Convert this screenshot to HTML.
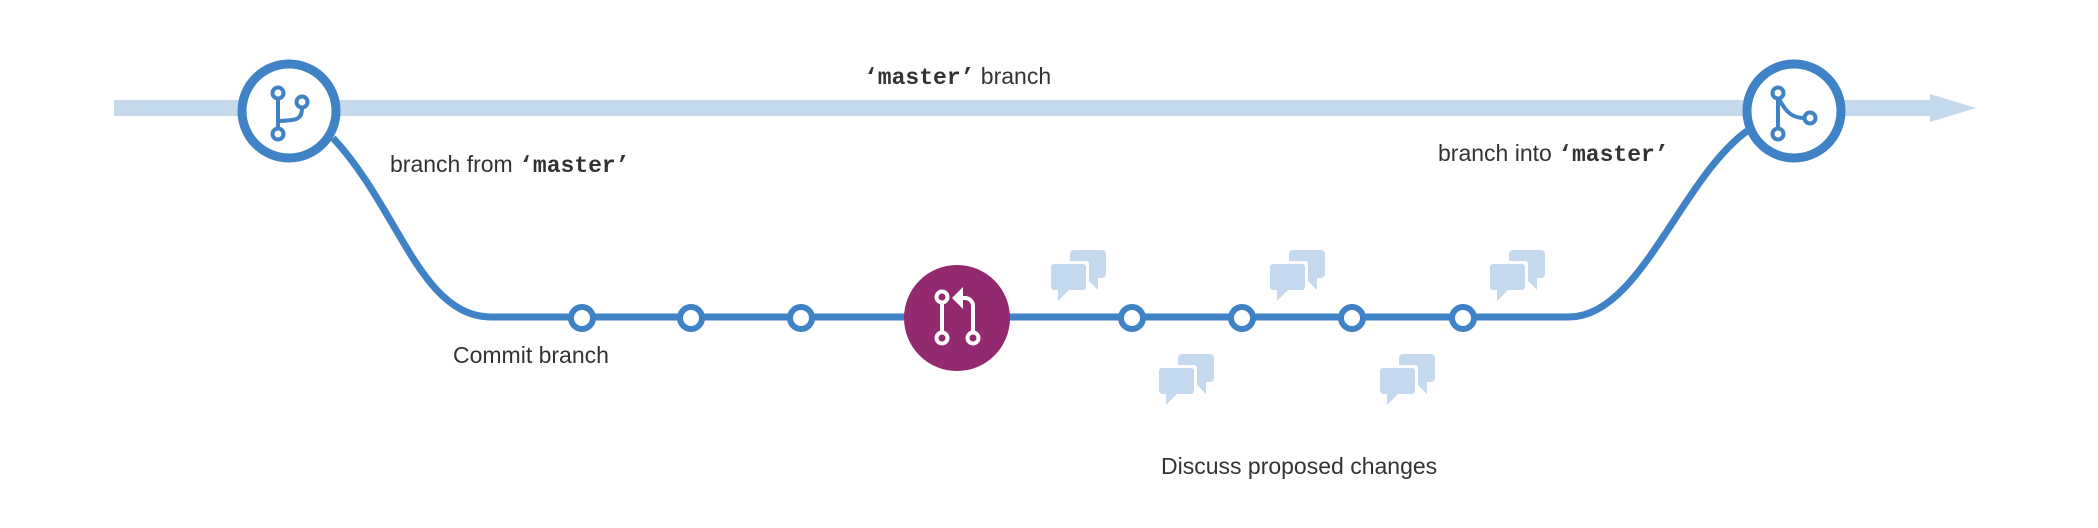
<!DOCTYPE html>
<html><head><meta charset="utf-8"><style>
html,body{margin:0;padding:0;background:#fff;}
svg{display:block}
text{font-family:"Liberation Sans",sans-serif;font-size:23px;fill:#333}
.m{font-family:"Liberation Mono",monospace;font-weight:bold}
</style></head><body>
<svg width="2098" height="528" viewBox="0 0 2098 528" xmlns="http://www.w3.org/2000/svg">
<defs>
<g id="chat">
<path d="M24 0 H52 a4 4 0 0 1 4 4 V24 a4 4 0 0 1 -4 4 H48 V40 L36 28 H24 a4 4 0 0 1 -4 -4 V4 a4 4 0 0 1 4 -4Z" fill="#c5d9ee"/>
<path d="M2 11 H36 a3 3 0 0 1 3 3 V40 a3 3 0 0 1 -3 3 H20 L6 55 V43 H2 a3 3 0 0 1 -3 -3 V14 a3 3 0 0 1 3 -3Z" fill="#fff"/>
<path d="M4 14 H33 a3 3 0 0 1 3 3 V37 a3 3 0 0 1 -3 3 H19 L8 51 V40 H4 a3 3 0 0 1 -3 -3 V17 a3 3 0 0 1 3 -3Z" fill="#c5d9ee"/>
</g>
</defs>
<rect x="114" y="100" width="1822" height="16" fill="#c5d9ec"/>
<polygon points="1930,94 1976,108 1930,122" fill="#c5d9ec"/>
<path d="M333,138 C400,210 420,317 492,317 L1569,317 C1640,317 1680,180 1747,131" fill="none" stroke="#3f82c6" stroke-width="7"/>
<g fill="#fff" stroke="#3f82c6" stroke-width="6">
<circle cx="582" cy="318" r="11"/><circle cx="691" cy="318" r="11"/><circle cx="801" cy="318" r="11"/>
<circle cx="1132" cy="318" r="11"/><circle cx="1242" cy="318" r="11"/><circle cx="1352" cy="318" r="11"/><circle cx="1463" cy="318" r="11"/>
</g>
<circle cx="289" cy="111" r="47" fill="#fff" stroke="#3f82c6" stroke-width="9"/>
<g fill="#fff" stroke="#3f82c6" stroke-width="4">
<path d="M278,99 V128" fill="none"/>
<path d="M302,108 C302,120 296,120 280,121" fill="none"/>
<circle cx="278" cy="93" r="5.5"/><circle cx="278" cy="134" r="5.5"/><circle cx="302" cy="102" r="5.5"/>
</g>
<circle cx="1794" cy="111" r="47" fill="#fff" stroke="#3f82c6" stroke-width="9"/>
<g fill="#fff" stroke="#3f82c6" stroke-width="4">
<path d="M1778,99 V128" fill="none"/>
<path d="M1779,99 C1786,112 1792,118 1804,118" fill="none"/>
<circle cx="1778" cy="93" r="5.5"/><circle cx="1778" cy="134" r="5.5"/><circle cx="1810" cy="118" r="5.5"/>
</g>
<circle cx="957" cy="318" r="53" fill="#93296f"/>
<g fill="#93296f" stroke="#fff" stroke-width="4">
<path d="M942,303 V332" fill="none"/>
<path d="M973,332 V306 a8 8 0 0 0 -8 -8 H960" fill="none"/>
<circle cx="942" cy="297" r="5.5"/><circle cx="942" cy="338" r="5.5"/><circle cx="973" cy="338" r="5.5"/>
</g>
<polygon points="952,298 963,287 963,309" fill="#fff"/>
<use href="#chat" x="1050" y="250"/>
<use href="#chat" x="1269" y="250"/>
<use href="#chat" x="1489" y="250"/>
<use href="#chat" x="1158" y="354"/>
<use href="#chat" x="1379" y="354"/>
<text x="864" y="84"><tspan class="m">‘master’</tspan> branch</text>
<text x="390" y="172">branch from <tspan class="m">‘master’</tspan></text>
<text x="1438" y="161">branch into <tspan class="m">‘master’</tspan></text>
<text x="453" y="363">Commit  branch</text>
<text x="1161" y="474">Discuss proposed changes</text>
</svg>
</body></html>
